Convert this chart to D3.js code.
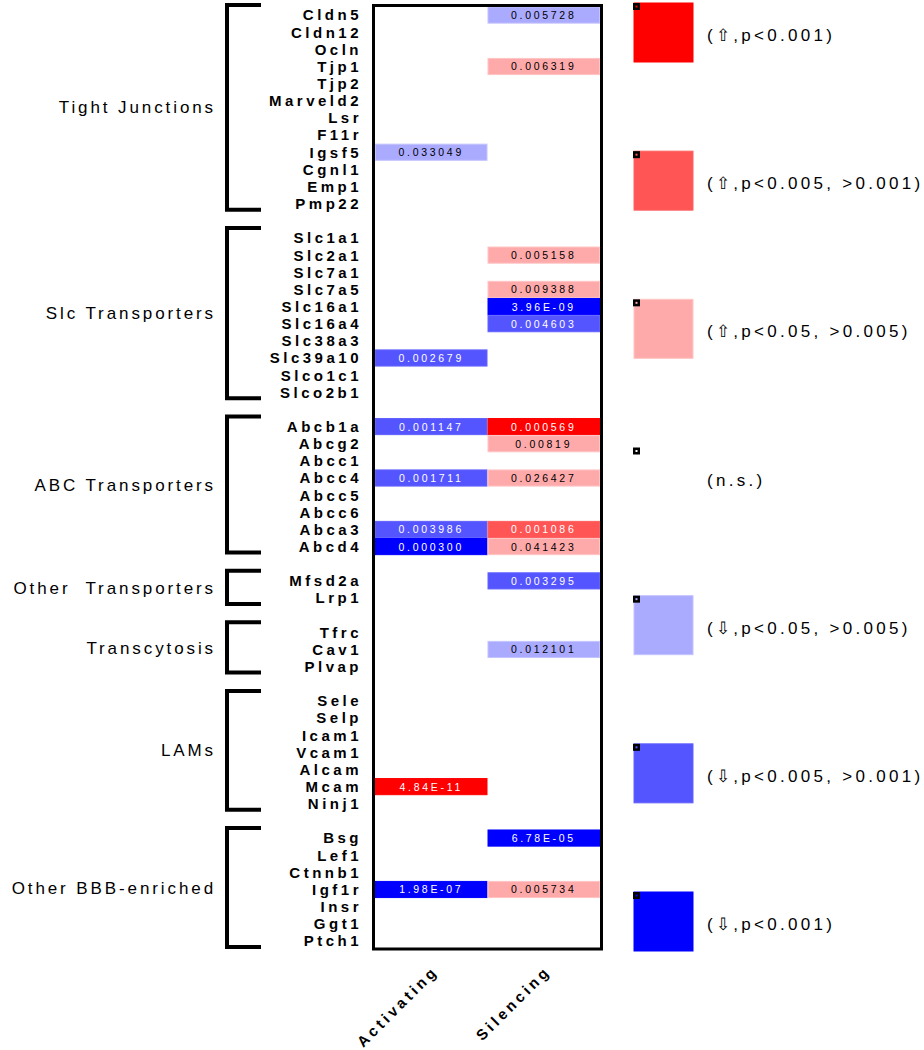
<!DOCTYPE html>
<html>
<head>
<meta charset="utf-8">
<script src="https://cdn.jsdelivr.net/npm/d3@7/dist/d3.min.js"></script>
<style>
  html, body { margin: 0; padding: 0; background: #fff; }
  svg { display: block; font-family: "Liberation Sans", Arial, sans-serif; }
  text { white-space: pre; }
</style>
</head>
<body>
<svg id="chart" width="924" height="1050"></svg>
<script>
// ---------- DATA ----------
const groupNames = ["Tight Junctions", "Slc Transporters", "ABC Transporters", "Other  Transporters", "Transcytosis", "LAMs", "Other BBB-enriched"];
const tightJunctionGenes = ["Cldn5", "Cldn12", "Ocln", "Tjp1", "Tjp2", "Marveld2", "Lsr", "F11r", "Igsf5", "Cgnl1", "Emp1", "Pmp22"];
const slcGenes = ["Slc1a1", "Slc2a1", "Slc7a1", "Slc7a5", "Slc16a1", "Slc16a4", "Slc38a3", "Slc39a10", "Slco1c1", "Slco2b1"];
const abcGenes = ["Abcb1a", "Abcg2", "Abcc1", "Abcc4", "Abcc5", "Abcc6", "Abca3", "Abcd4"];
const otherTransporterGenes = ["Mfsd2a", "Lrp1"];
const transcytosisGenes = ["Tfrc", "Cav1", "Plvap"];
const lamGenes = ["Sele", "Selp", "Icam1", "Vcam1", "Alcam", "Mcam", "Ninj1"];
const otherBBBGenes = ["Bsg", "Lef1", "Ctnnb1", "Igf1r", "Insr", "Ggt1", "Ptch1"];
const groupGenes = [tightJunctionGenes, slcGenes, abcGenes, otherTransporterGenes, transcytosisGenes, lamGenes, otherBBBGenes];

const columns = ["Activating", "Silencing"];

// significant cells (direction: +1 up, -1 down), p-values as printed
const activatingGenes = ["Igsf5", "Slc39a10", "Abcb1a", "Abcc4", "Abca3", "Abcd4", "Mcam", "Igf1r"];
const activatingP     = ["0.033049", "0.002679", "0.001147", "0.001711", "0.003986", "0.000300", "4.84E-11", "1.98E-07"];
const activatingDir   = [-1, -1, -1, -1, -1, -1, 1, -1];

const silencingGenes = ["Cldn5", "Tjp1", "Slc2a1", "Slc7a5", "Slc16a1", "Slc16a4", "Abcb1a", "Abcg2", "Abcc4", "Abca3", "Abcd4", "Mfsd2a", "Cav1", "Bsg", "Igf1r"];
const silencingP     = ["0.005728", "0.006319", "0.005158", "0.009388", "3.96E-09", "0.004603", "0.000569", "0.00819", "0.026427", "0.001086", "0.041423", "0.003295", "0.012101", "6.78E-05", "0.005734"];
const silencingDir   = [-1, 1, 1, 1, -1, -1, 1, 1, 1, 1, 1, -1, -1, -1, 1];

const legendLabels = ["(\u21E7,p<0.001)", "(\u21E7,p<0.005, >0.001)", "(\u21E7,p<0.05, >0.005)", "(n.s.)", "(\u21E9,p<0.05, >0.005)", "(\u21E9,p<0.005, >0.001)", "(\u21E9,p<0.001)"];
const legendKeys   = ["up3", "up2", "up1", "ns", "down1", "down2", "down3"];

// ---------- STYLE ----------
const palette = {
  up3: "#ff0000", up2: "#ff5555", up1: "#ffaaaa",
  ns: "#ffffff",
  down1: "#aaaaff", down2: "#5555ff", down3: "#0000ff"
};

function tier(p) { return p < 0.001 ? 3 : (p < 0.005 ? 2 : 1); }
function key(dir, p) { return (dir > 0 ? "up" : "down") + tier(p); }

// ---------- BUILD ROWS ----------
const rows = [];
const groupSpans = [];
let idx = 0;
groupGenes.forEach((genes, gi) => {
  const first = idx;
  genes.forEach(g => { rows.push({ gene: g, index: idx }); idx++; });
  groupSpans.push({ name: groupNames[gi], first, last: idx - 1 });
  if (gi < groupGenes.length - 1) idx++; // gap row between groups
});
const nRows = idx;
const rowIndex = new Map(rows.map(r => [r.gene, r.index]));

const cells = [];
activatingGenes.forEach((g, i) => cells.push({ gene: g, col: "Activating", label: activatingP[i], p: +activatingP[i], dir: activatingDir[i] }));
silencingGenes.forEach((g, i) => cells.push({ gene: g, col: "Silencing", label: silencingP[i], p: +silencingP[i], dir: silencingDir[i] }));

// ---------- SCALES ----------
const svg = d3.select("#chart");
const y = d3.scaleBand().domain(d3.range(nRows)).range([6.5, 949.5]);
const x = d3.scaleBand().domain(columns).range([375, 600]);
const yc = i => y(i) + y.bandwidth() / 2;

// ---------- CELLS ----------
const cellG = svg.append("g");
cellG.selectAll("rect").data(cells).join("rect")
  .attr("x", d => x(d.col) + 0.5)
  .attr("y", d => y(rowIndex.get(d.gene)) + 0.5)
  .attr("width", x.bandwidth() - 1)
  .attr("height", y.bandwidth() - 1)
  .attr("fill", d => palette[key(d.dir, d.p)])
  .attr("stroke", d => d3.color(palette[key(d.dir, d.p)]).brighter(0.4))
  .attr("stroke-width", 1);

cellG.selectAll("text").data(cells).join("text")
  .attr("x", d => x(d.col) + x.bandwidth() / 2)
  .attr("y", d => yc(rowIndex.get(d.gene)))
  .attr("dy", "0.38em")
  .attr("text-anchor", "middle")
  .attr("font-size", 10.5)
  .attr("letter-spacing", 2.7)
  .attr("fill", d => tier(d.p) === 1 ? "#000" : "#fff")
  .text(d => d.label);

// frame
svg.append("rect")
  .attr("x", 373.5).attr("y", 5.5)
  .attr("width", 228).attr("height", 943.5)
  .attr("fill", "none").attr("stroke", "#000").attr("stroke-width", 3);

// ---------- GENE LABELS ----------
svg.append("g").selectAll("text").data(rows).join("text")
  .attr("x", 362)
  .attr("y", d => yc(d.index))
  .attr("dy", "0.36em")
  .attr("text-anchor", "end")
  .attr("font-weight", "bold")
  .attr("font-size", 15)
  .attr("letter-spacing", 3.5)
  .text(d => d.gene);

// ---------- BRACKETS ----------
const br = svg.append("g");
groupSpans.forEach(s => {
  const top = yc(s.first) - 10, bot = yc(s.last) + 6;
  br.append("path")
    .attr("d", `M261,${top}H227V${bot}H261`)
    .attr("fill", "none").attr("stroke", "#000").attr("stroke-width", 4);
  br.append("text")
    .attr("x", 216).attr("y", (top + bot) / 2)
    .attr("dy", "0.36em")
    .attr("text-anchor", "end")
    .attr("font-size", 17)
    .attr("letter-spacing", 2.9)
    .text(s.name);
});

// ---------- COLUMN LABELS ----------
svg.append("g").selectAll("text").data(columns).join("text")
  .attr("transform", d => `translate(${x(d) + x.bandwidth() / 2 + 8},972) rotate(-45)`)
  .attr("text-anchor", "end")
  .attr("font-weight", "bold")
  .attr("font-size", 15)
  .attr("letter-spacing", 3.5)
  .text(d => d);

// ---------- LEGEND ----------
const ly = d3.scalePoint().domain(d3.range(legendKeys.length)).range([3, 892]);
const lg = svg.append("g");
legendKeys.forEach((k, i) => {
  const top = ly(i);
  if (k !== "ns") {
    lg.append("rect").attr("x", 634).attr("y", top).attr("width", 59).attr("height", 59)
      .attr("fill", palette[k]).attr("stroke", d3.color(palette[k]).brighter(0.4)).attr("stroke-width", 1);
  }
  lg.append("rect").attr("x", 633).attr("y", top).attr("width", 7).attr("height", 7).attr("fill", "#000");
  lg.append("rect").attr("x", 635.5).attr("y", top + 2.5).attr("width", 2).attr("height", 2)
    .attr("fill", k === "ns" ? "#fff" : palette[k]);
  lg.append("text")
    .attr("x", 707).attr("y", top + 32)
    .attr("dy", "0.36em")
    .attr("font-size", 17)
    .attr("letter-spacing", 3.3)
    .text(legendLabels[i]);
});
</script>
</body>
</html>
